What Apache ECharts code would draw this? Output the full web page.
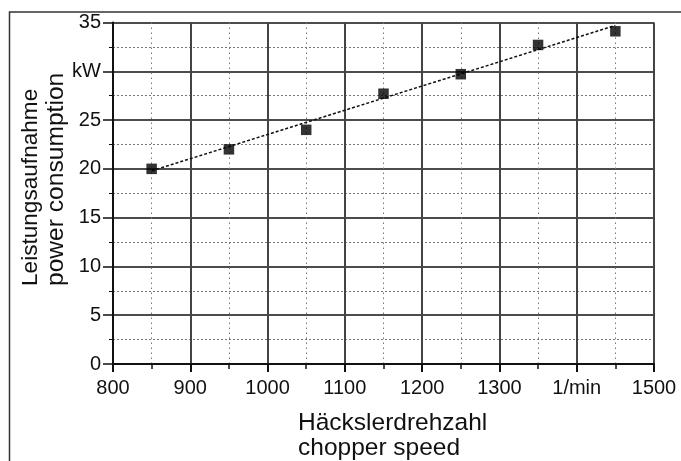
<!DOCTYPE html>
<html>
<head>
<meta charset="utf-8">
<script src="https://cdn.jsdelivr.net/npm/echarts@6/dist/echarts.min.js"></script>
<style>
html,body{margin:0;padding:0;background:#fff;}
#c{width:681px;height:461px;}
</style>
</head>
<body>
<div id="c"></div>
<script>
// Data
const speeds = [850, 950, 1050, 1150, 1250, 1350, 1450];
const power = [20.0, 22.0, 24.0, 27.7, 29.7, 32.7, 34.1];
const trendSpeeds = [850, 1450];
const trendPower = [19.8, 34.7];
const xTickValues = [800, 900, 1000, 1100, 1200, 1300, 1400, 1500];
const xTickLabels = ['800', '900', '1000', '1100', '1200', '1300', '1/min', '1500'];
const yTickValues = [0, 5, 10, 15, 20, 25, 30, 35];
const yTickLabels = ['0', '5', '10', '15', '20', '25', 'kW', '35'];
const xTitle = ['Häckslerdrehzahl', 'chopper speed'];
const yTitle = ['Leistungsaufnahme', 'power consumption'];

const FONT = 'Liberation Sans, Arial, sans-serif';
const chart = echarts.init(document.getElementById('c'), null, {renderer: 'canvas'});

function lookup(values, labels, v) {
  const i = values.indexOf(v);
  return i >= 0 ? labels[i] : '';
}

chart.setOption({
  animation: false,
  backgroundColor: '#fff',
  grid: {left: 113, right: 27, top: 22.5, bottom: 97, containLabel: false},
  xAxis: {
    type: 'value', min: 800, max: 1500, interval: 100,
    axisLine: {show: true, onZero: false, lineStyle: {color: '#111', width: 2}},
    axisTick: {show: true, inside: false, length: 8, lineStyle: {color: '#111', width: 2}},
    minorTick: {show: true, splitNumber: 2, length: 5, lineStyle: {color: '#111', width: 1.5}},
    splitLine: {show: true, lineStyle: {color: '#444', width: 2}},
    minorSplitLine: {show: true, lineStyle: {color: '#777', width: 1, type: [1.5, 3.5]}},
    axisLabel: {
      margin: 14, color: '#111', fontFamily: FONT, fontSize: 20,
      formatter: v => lookup(xTickValues, xTickLabels, v)
    }
  },
  yAxis: {
    type: 'value', min: 0, max: 35, interval: 5,
    axisLine: {show: true, onZero: false, lineStyle: {color: '#111', width: 2}},
    axisTick: {show: true, inside: false, length: 10, lineStyle: {color: '#111', width: 1.5}},
    minorTick: {show: true, splitNumber: 2, length: 4, lineStyle: {color: '#111', width: 1}},
    splitLine: {show: true, lineStyle: {color: '#111', width: 1.5}},
    minorSplitLine: {show: true, lineStyle: {color: '#777', width: 1, type: [2, 2]}},
    axisLabel: {
      margin: 12, color: '#111', fontFamily: FONT, fontSize: 20,
      formatter: v => lookup(yTickValues, yTickLabels, v)
    }
  },
  graphic: [
    {type: 'rect', shape: {x: 9.5, y: 12, width: 720, height: 500}, style: {fill: 'none', stroke: '#333', lineWidth: 1.5}, silent: true, z: -1},
    {type: 'text', x: 298, y: 411, style: {text: xTitle.join('\n'), font: '24.5px ' + FONT, fill: '#111', align: 'left', verticalAlign: 'top', lineHeight: 25}},
    {type: 'text', x: 17.5, y: 286, rotation: Math.PI / 2, style: {
      text: '{a|' + yTitle[0] + '}\n{b|' + yTitle[1] + '}',
      fill: '#111', align: 'left', verticalAlign: 'top',
      rich: {
        a: {fontFamily: FONT, fontSize: 22.6, lineHeight: 26, fill: '#111'},
        b: {fontFamily: FONT, fontSize: 24.6, lineHeight: 25, fill: '#111'}
      }
    }}
  ],
  series: [
    {
      type: 'line', data: trendSpeeds.map((x, i) => [x, trendPower[i]]),
      showSymbol: false, symbol: 'none',
      lineStyle: {color: '#111', width: 1.5, type: [3, 2]}, z: 2
    },
    {
      type: 'scatter', data: speeds.map((x, i) => [x, power[i]]),
      symbol: 'rect', symbolSize: 10.5,
      itemStyle: {color: '#000'}, z: 3
    }
  ]
});
</script>
</body>
</html>
